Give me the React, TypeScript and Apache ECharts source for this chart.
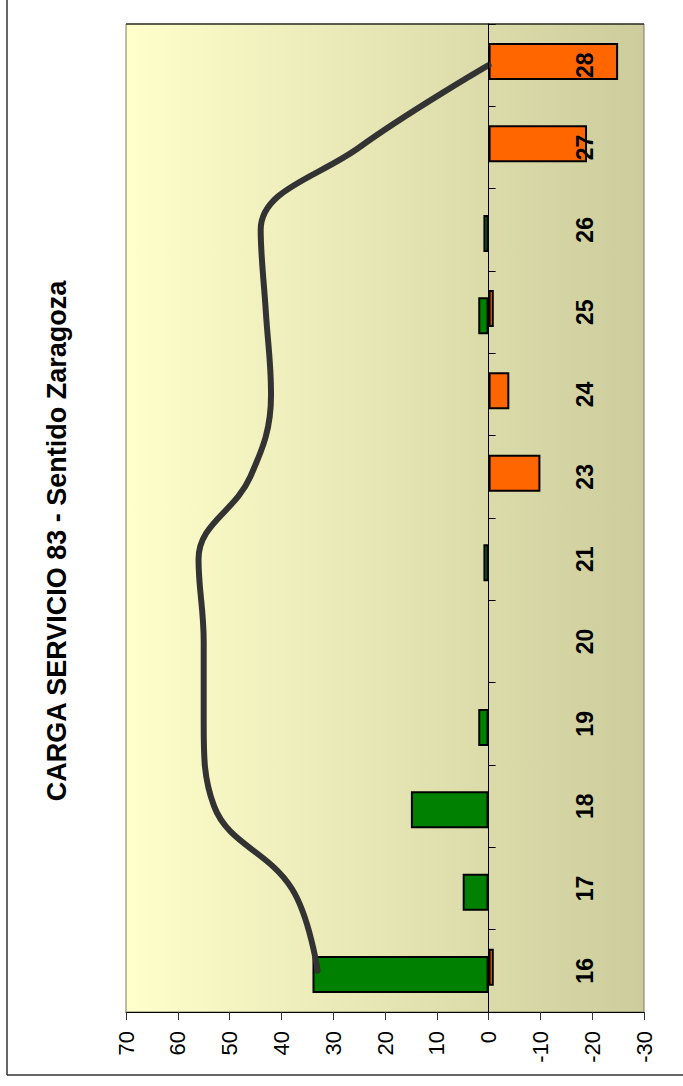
import React, { useEffect, useRef } from "react";
import * as echarts from "echarts";

const categories = ["16", "17", "18", "19", "20", "21", "23", "24", "25", "26", "27", "28"];
const suben = [34, 5, 15, 2, 0, 1, 0, 0, 2, 1, 0, 0];
const bajan = [-1, 0, 0, 0, 0, 0, -10, -4, -1, 0, -19, -25];
const carga = [33, 38, 53, 55, 55, 56, 46, 42, 43, 44, 25, 0];
const titleText = "CARGA SERVICIO 83 - Sentido Zaragoza";

const FONT = "Arial";

export default function App() {
  const ref = useRef<HTMLDivElement>(null);
  useEffect(() => {
    if (!ref.current) return;
    const chart = echarts.init(ref.current, null, { renderer: "svg" });
    const option: any = {
      animation: false,
      backgroundColor: "#ffffff",
      grid: {
        left: 126,
        right: 39,
        top: 24,
        bottom: 74,
        show: true,
        backgroundColor: new echarts.graphic.LinearGradient(0, 0, 1, 0, [
          { offset: 0, color: "#FFFFCC" },
          { offset: 1, color: "#CCCC9C" },
        ]),
        borderColor: "#7a7a60",
        borderWidth: 1,
        containLabel: false,
        outerBoundsMode: "none",
      },
      xAxis: {
        type: "value",
        inverse: true,
        min: -30,
        max: 70,
        interval: 10,
        position: "bottom",
        axisLine: { show: true, onZero: false, lineStyle: { color: "#000", width: 1 } },
        axisTick: { show: true, length: 8, lineStyle: { color: "#333" } },
        axisLabel: { rotate: 90, margin: 19, fontSize: 22, fontFamily: FONT, color: "#000" },
        splitLine: { show: false },
      },
      yAxis: {
        type: "category",
        data: categories,
        position: "right",
        z: 10,
        axisLine: { show: true, onZero: true, lineStyle: { color: "#000", width: 1 } },
        axisTick: { show: true, length: 7, inside: false, lineStyle: { color: "#000" } },
        axisLabel: {
          rotate: 90,
          inside: true,
          margin: 48,
          fontSize: 23,
          fontWeight: "bold",
          fontFamily: FONT,
          color: "#000",
        },
        splitLine: { show: false },
      },
      series: [
        {
          type: "bar",
          name: "Bajan",
          data: bajan.map((v) => (v === 0 ? null : v)),
          barWidth: 37,
          barGap: "-80%",
          itemStyle: { color: "#FF6600", borderColor: "#000", borderWidth: 2 },
        },
        {
          type: "bar",
          name: "Suben",
          data: suben.map((v) => (v === 0 ? null : v)),
          barWidth: 37,
          barGap: "-80%",
          itemStyle: { color: "#008000", borderColor: "#000", borderWidth: 2 },
        },
        {
          type: "line",
          name: "Carga",
          data: carga.map((v, i) => [v, categories[i]]),
          smooth: 0.4,
          symbol: "none",
          lineStyle: { color: "#333333", width: 6, cap: "round" },
          z: 5,
        },
      ],
      graphic: [
        {
          type: "line",
          shape: { x1: 7, y1: 0, x2: 7, y2: 1075 },
          style: { stroke: "#333", lineWidth: 1.5 },
        },
        {
          type: "line",
          shape: { x1: 7, y1: 1075, x2: 683, y2: 1075 },
          style: { stroke: "#333", lineWidth: 1.5 },
        },
        {
          type: "line",
          shape: { x1: 126, y1: 24, x2: 644, y2: 24 },
          style: { stroke: "#000", lineWidth: 1 },
        },
        {
          type: "text",
          x: 57,
          y: 541,
          rotation: Math.PI / 2,
          style: {
            text: titleText,
            font: `bold 27px ${FONT}`,
            align: "center",
            verticalAlign: "middle",
            fill: "#000",
          },
        },
      ],
    };
    chart.setOption(option);
    return () => chart.dispose();
  }, []);
  return (
    <div
      ref={ref}
      style={{ position: "fixed", left: 0, top: 0, width: 683, height: 1086 }}
    />
  );
}
